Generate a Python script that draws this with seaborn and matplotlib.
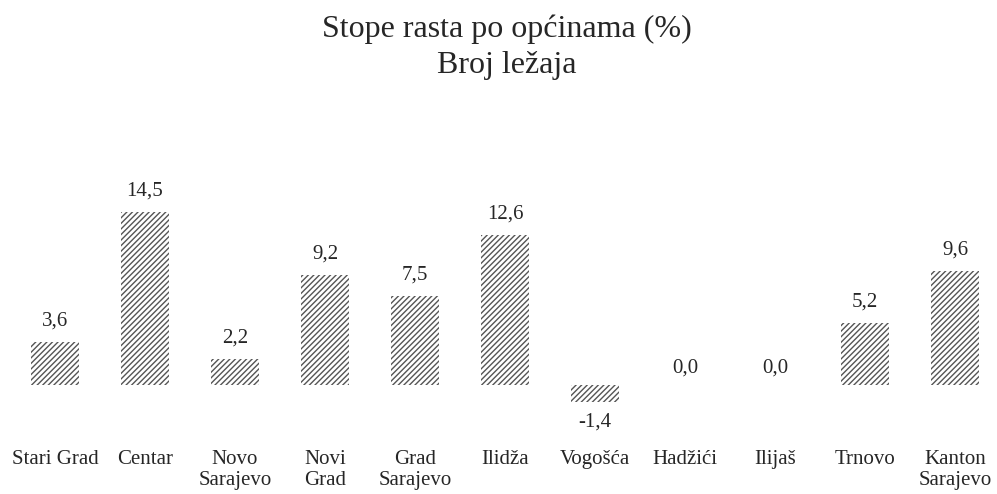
import pandas as pd
import seaborn as sns
import matplotlib.pyplot as plt

# podaci
opcine = ["Stari Grad", "Centar", "Novo\nSarajevo", "Novi\nGrad", "Grad\nSarajevo",
          "Ilidža", "Vogošća", "Hadžići", "Ilijaš", "Trnovo", "Kanton\nSarajevo"]
stope = [3.6, 14.5, 2.2, 9.2, 7.5, 12.6, -1.4, 0.0, 0.0, 5.2, 9.6]
oznake = ["3,6", "14,5", "2,2", "9,2", "7,5", "12,6", "-1,4", "0,0", "0,0", "5,2", "9,6"]

df = pd.DataFrame({"opcina": opcine, "stopa": stope})

sns.set_style("white")
plt.rcParams["font.family"] = ["Liberation Serif", "DejaVu Serif"]

fig = plt.figure(figsize=(9.97, 4.94), dpi=100)
ax = fig.add_axes([0.01, 0.15, 0.993, 0.445])

sns.barplot(data=df, x="opcina", y="stopa", color="white", edgecolor="#555555",
            linewidth=0, width=0.53, ax=ax)
for p in ax.patches:
    p.set_hatch("//////")

ax.set_xlim(-0.5, len(opcine) - 0.5)
ax.set_ylim(-2.93, 15.51)

# oznake vrijednosti
for i, (v, t) in enumerate(zip(stope, oznake)):
    if v > 0:
        ax.annotate(t, (i, v), xytext=(0, 15), textcoords="offset points",
                    ha="center", va="center", fontsize=15)
    elif v < 0:
        ax.annotate(t, (i, v), xytext=(0, -15), textcoords="offset points",
                    ha="center", va="center", fontsize=15)
    else:
        ax.annotate(t, (i, v), xytext=(0, 12), textcoords="offset points",
                    ha="center", va="center", fontsize=15)

ax.set_xlabel("")
ax.set_ylabel("")
ax.set_yticks([])
ax.tick_params(axis="x", length=0, pad=22, labelsize=15)
for lbl in ax.get_xticklabels():
    lbl.set_linespacing(1.12)
sns.despine(ax=ax, left=True, bottom=True)

fig.text(0.508, 1 - 37 / 494, "Stope rasta po općinama (%)", ha="center", va="baseline", fontsize=23)
fig.text(0.508, 1 - 73 / 494, "Broj ležaja", ha="center", va="baseline", fontsize=23)

fig.savefig("out.png", dpi=100)
